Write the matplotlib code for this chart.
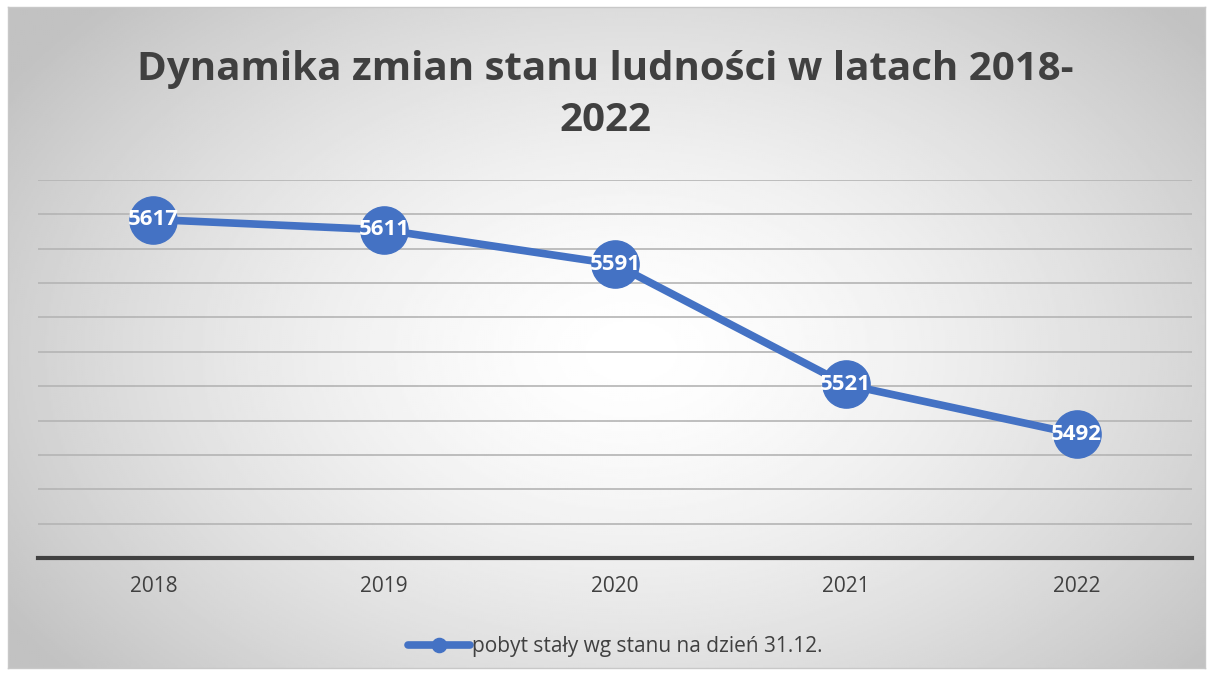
import numpy as np
import matplotlib.pyplot as plt

# data
years = ["2018", "2019", "2020", "2021", "2022"]
population = [5617, 5611, 5591, 5521, 5492]
series_label = "pobyt stały wg stanu na dzień 31.12."
title = "Dynamika zmian stanu ludności w latach 2018-\n2022"

plt.rcParams["font.family"] = ["Open Sans", "DejaVu Sans"]

fig = plt.figure(figsize=(12.1, 6.75), dpi=100)

# radial gradient background inside the chart frame
bg = fig.add_axes([8 / 1210, 7 / 675, 1197 / 1210, 661 / 675])
h, w = 330, 600
yy, xx = np.mgrid[0:h, 0:w]
cx, cy = 0.52 * w, 0.52 * h
r = np.sqrt(((xx - cx) / (0.62 * w)) ** 2 + ((yy - cy) / (0.75 * h)) ** 2)
r = np.clip(r, 0, 1)
shade = 1.0 - 0.24 * r ** 1.5
bg.imshow(shade, cmap="gray", vmin=0, vmax=1, aspect="auto", extent=[0, 1, 0, 1])
bg.set_xticks([])
bg.set_yticks([])
for s in bg.spines.values():
    s.set_color("#c8c8c8")
    s.set_linewidth(1)

ax = fig.add_axes([38 / 1210, 1 - 558 / 675, (1192 - 38) / 1210, (558 - 180) / 675])
ax.patch.set_alpha(0)
x = np.arange(len(years))
ax.plot(x, population, color="#4472c4", linewidth=5.5, marker="o",
        markersize=34, solid_capstyle="round", zorder=3, label=series_label)
for xi, v in zip(x, population):
    ax.text(xi, v, str(v), color="white", fontsize=16, fontweight="bold",
            ha="center", va="center", zorder=4)

ax.set_xlim(-0.5, len(years) - 0.5)
ax.set_ylim(5420, 5640)
ax.set_yticks(np.arange(5420, 5641, 20))
ax.yaxis.grid(True, color="#b4b4b4", linewidth=1.2)
ax.set_axisbelow(True)
ax.tick_params(axis="y", left=False, labelleft=False)
ax.set_xticks(x)
ax.set_xticklabels(years, fontsize=15, color="#404040")
ax.tick_params(axis="x", length=0, pad=13)
for side in ["top", "right", "left"]:
    ax.spines[side].set_visible(False)
ax.spines["bottom"].set_color("#404040")
ax.spines["bottom"].set_linewidth(3)

fig.text(0.5, 1 - 95 / 675, title, ha="center", va="center", fontsize=29,
         fontweight="bold", color="#404040", linespacing=1.4)

leg = ax.legend(loc="center", bbox_to_anchor=(0.5, -0.235), frameon=False,
                fontsize=15, markerscale=0.3, handlelength=3.0, handletextpad=0.05)
for t in leg.get_texts():
    t.set_color("#404040")

fig.savefig("out.png", dpi=100, facecolor="white")
